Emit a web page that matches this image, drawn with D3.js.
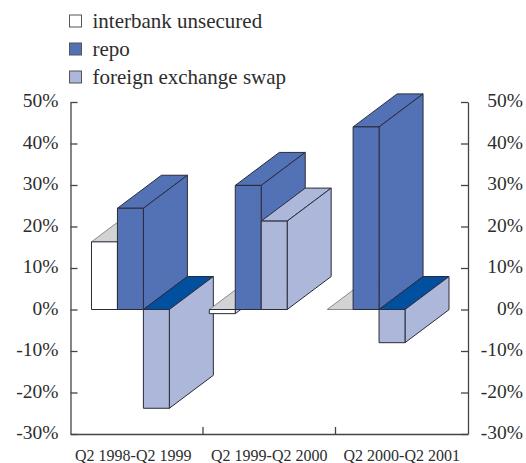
<!DOCTYPE html>
<html>
<head>
<meta charset="utf-8">
<script src="https://cdnjs.cloudflare.com/ajax/libs/d3/7.8.5/d3.min.js"></script>
<style>
  html, body { margin: 0; padding: 0; background: #fff; }
  svg { display: block; }
  text { font-family: "Liberation Serif", serif; fill: #2d2d2d; }
  .axis path, .axis line { stroke: #444; stroke-width: 1.3; }
</style>
</head>
<body>
<div id="chart"></div>
<script>
var periods = ["Q2 1998-Q2 1999", "Q2 1999-Q2 2000", "Q2 2000-Q2 2001"];
var seriesNames = ["interbank unsecured", "repo", "foreign exchange swap"];
var interbank = [16.3, -1, 0];
var repo = [24.4, 29.9, 44];
var fxSwap = [-23.8, 21.3, -8];
var yTicks = [-30, -20, -10, 0, 10, 20, 30, 40, 50];

var width = 526, height = 463;
var left = 70.5, right = 468, top_ = 102, bottom = 434;
var depthX = 44, depthY = 33;

var frontCol = ["#ffffff", "#5272b5", "#adb7da"];
var topCol = ["#d2d3d5", "#5272b5", "#adb7da"];
var sideCol = ["#d2d3d5", "#5272b5", "#adb7da"];
var negTopCol = ["#d2d3d5", "#5272b5", "#00509f"];
var edge = "#2b2b3a";

var values = [interbank, repo, fxSwap];

var svg = d3.select("#chart").append("svg")
    .attr("width", width)
    .attr("height", height);

var y = d3.scaleLinear().domain([-30, 50]).range([bottom, top_]);

// bars sit on the front plane, labels use the whole floor
var x0 = d3.scaleBand().domain(periods).range([left + 1, right - depthX + 1]);
var x1 = d3.scaleBand().domain(seriesNames).range([0, x0.bandwidth()])
    .paddingInner(0).paddingOuter(0.77);
var xLabel = d3.scaleBand().domain(periods).range([left, right]);

// Axes
var tickFmt = function(d) { return d + "%"; };

var axL = svg.append("g").attr("class", "axis")
    .attr("transform", "translate(" + left + ",0)")
    .call(d3.axisLeft(y).tickValues(yTicks).tickFormat(tickFmt)
        .tickSizeInner(-7).tickSizeOuter(0).tickPadding(12));
axL.selectAll("text").attr("dy", "0.25em")
    .style("font-size", "19.5px").style("font-family", "Liberation Serif");

var axR = svg.append("g").attr("class", "axis")
    .attr("transform", "translate(" + right + ",0)")
    .call(d3.axisRight(y).tickValues(yTicks).tickFormat(tickFmt)
        .tickSizeInner(-7).tickSizeOuter(0).tickPadding(55));
axR.selectAll("text").attr("text-anchor", "end").attr("dy", "0.25em")
    .style("font-size", "19.5px").style("font-family", "Liberation Serif");

var axB = svg.append("g").attr("class", "axis")
    .attr("transform", "translate(0," + bottom + ")")
    .call(d3.axisBottom(xLabel).tickSize(0).tickPadding(16));
axB.selectAll("text")
    .attr("dx", function(d, i) { return i === 0 ? -3.5 : 0; })
    .style("font-size", "16px").style("font-family", "Liberation Serif");

svg.append("g").attr("class", "axis").selectAll("line")
    .data(periods.slice(1))
    .enter()
    .append("line")
    .attr("x1", function(d) { return xLabel(d); })
    .attr("x2", function(d) { return xLabel(d); })
    .attr("y1", bottom)
    .attr("y2", bottom - 7);

// 3D bars, left to right so the nearer faces paint over
function poly(pts) { return pts.map(function(p) { return p.join(","); }).join(" "); }

var bars = svg.append("g").attr("stroke", edge).attr("stroke-width", 1).attr("stroke-linejoin", "round");

periods.forEach(function(p, i) {
  seriesNames.forEach(function(s, j) {
    var v = values[j][i];
    var x = x0(p) + x1(s), w = x1.bandwidth();
    var y0 = y(0), yv = y(v);
    var g = bars.append("g");
    var topY = Math.min(y0, yv);
    var botY = Math.max(y0, yv);

    // top face
    g.append("polygon")
      .attr("points", poly([[x, topY], [x + w, topY], [x + w + depthX, topY - depthY], [x + depthX, topY - depthY]]))
      .attr("fill", v < 0 ? negTopCol[j] : topCol[j])
      .attr("stroke", j === 0 ? "#8a8a8a" : edge);
    // side face
    g.append("polygon")
      .attr("points", poly([[x + w, topY], [x + w + depthX, topY - depthY], [x + w + depthX, botY - depthY], [x + w, botY]]))
      .attr("fill", sideCol[j]);
    // front face
    g.append("rect")
      .attr("x", x)
      .attr("y", topY)
      .attr("width", w)
      .attr("height", botY - topY)
      .attr("fill", frontCol[j]);
  });
});

// Legend
var legY = d3.scalePoint().domain(seriesNames).range([21, 77]);
var legend = svg.append("g");
legend.selectAll("rect")
  .data(seriesNames)
  .enter()
  .append("rect")
    .attr("x", 69.5)
    .attr("y", function(d) { return legY(d) - 6; })
    .attr("width", 12)
    .attr("height", 12)
    .attr("fill", function(d, i) { return frontCol[i]; })
    .attr("stroke", "#555")
    .attr("stroke-width", 1);
legend.selectAll("text")
  .data(seriesNames)
  .enter()
  .append("text")
    .attr("x", 92.5)
    .attr("y", function(d) { return legY(d); })
    .attr("dy", "0.32em")
    .style("font-size", "21px")
    .text(function(d) { return d; });
</script>
</body>
</html>
